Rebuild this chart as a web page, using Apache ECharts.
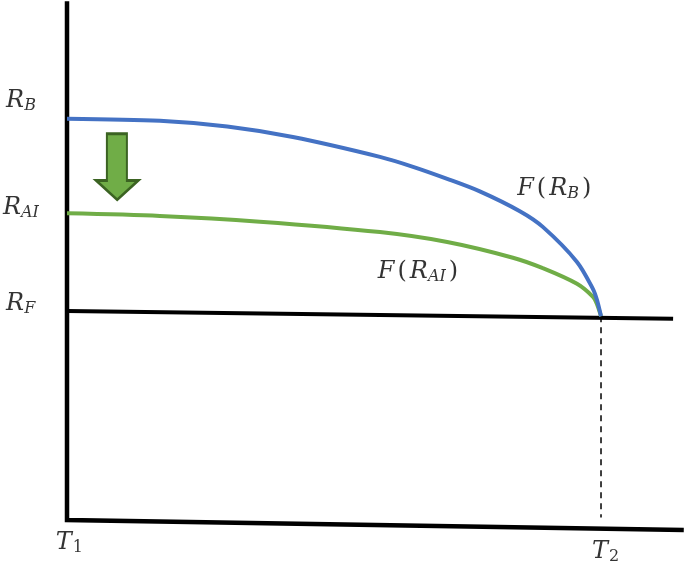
<!DOCTYPE html>
<html>
<head>
<meta charset="utf-8">
<script src="https://cdn.jsdelivr.net/npm/echarts@6/dist/echarts.min.js"></script>
<style>
html,body{margin:0;padding:0;background:#fff;}
#c{width:685px;height:570px;}
</style>
</head>
<body>
<div id="c"></div>
<script>
// Conceptual coordinates: x = time (T1 = 0, T2 = 10), y = level
var blueT = [0, 1.74, 3.0, 4.23, 5.86, 6.48, 7.12, 7.73, 8.48, 8.91, 9.55, 9.85, 9.925, 10];
var blueV = [7.68, 7.64, 7.53, 7.33, 6.95, 6.76, 6.53, 6.29, 5.91, 5.61, 4.94, 4.42, 4.21, 3.90];
var greenT = [0, 1.74, 3.61, 5.86, 7.12, 8.35, 8.91, 9.55, 9.85, 9.925, 10];
var greenV = [5.87, 5.82, 5.71, 5.51, 5.32, 5.02, 4.82, 4.52, 4.27, 4.13, 3.90];
var axisT = [0, 0, 11.55];
var axisV = [9.93, 0, -0.19];
var rfT = [0, 11.35];
var rfV = [4.0, 3.85];
var dashT = [10, 10];
var dashV = [3.9, 0.05];
var arrowPos = [0.94, 6.76];
var labelNames = ['{m|R}{s|B}', '{m|R}{s|AI}', '{m|R}{s|F}', '{m|T}{d|1}', '{m|T}{d|2}', '{m|F}{p|(}{m|R}{s|B}{p|)}', '{m|F}{p|(}{m|R}{s|AI}{p|)}'];
var labelT = [-1.14, -1.20, -1.14, -0.21, 9.83, 8.43, 5.82];
var labelV = [8.03, 5.98, 4.14, -0.43, -0.60, 6.34, 4.75];

function pairs(a, b) { return a.map(function (v, i) { return [v, b[i]]; }); }

var chart = echarts.init(document.getElementById('c'), null, {renderer: 'canvas'});
var rich = {
  m: {fontFamily: 'DejaVu Serif', fontStyle: 'italic', fontSize: 24, lineHeight: 28, color: '#000'},
  p: {fontFamily: 'DejaVu Serif', fontSize: 24, lineHeight: 28, color: '#000', padding: [0, 3, 0, 3]},
  s: {fontFamily: 'DejaVu Serif', fontStyle: 'italic', fontSize: 16, lineHeight: 18, padding: [10, 0, 0, 0], color: '#000'},
  d: {fontFamily: 'DejaVu Serif', fontSize: 16, lineHeight: 18, padding: [10, 0, 0, 1], color: '#000'}
};
chart.setOption({
  animation: false,
  backgroundColor: '#fff',
  grid: {left: 0.25, top: 2.725, width: 684.6, height: 564.3},
  xAxis: {type: 'value', min: -1.25, max: 11.57, show: false},
  yAxis: {type: 'value', min: -0.9, max: 9.9, show: false},
  series: [
    {type: 'line', data: pairs(axisT, axisV), symbol: 'none', clip: false,
     lineStyle: {color: '#000', width: 4.5, join: 'miter', cap: 'butt'}},
    {type: 'line', data: pairs(rfT, rfV), symbol: 'none', clip: false,
     lineStyle: {color: '#000', width: 4}},
    {type: 'line', data: pairs(dashT, dashV), symbol: 'none', clip: false,
     lineStyle: {color: '#000', width: 1.5, type: [6, 5]}},
    {type: 'line', data: pairs(greenT, greenV), symbol: 'none', smooth: 0.3, clip: false,
     lineStyle: {color: '#70AD47', width: 4}},
    {type: 'line', data: pairs(blueT, blueV), symbol: 'none', smooth: 0.3, clip: false,
     lineStyle: {color: '#4472C4', width: 4}},
    {type: 'scatter', data: [arrowPos], clip: false,
     symbol: 'path://M10.7,0 L30.7,0 L30.7,46.7 L42,46.7 L21,66 L0,46.7 L10.7,46.7 Z',
     symbolSize: [42, 66], symbolKeepAspect: false,
     itemStyle: {color: '#70AD47', borderColor: '#3B6322', borderWidth: 2.5, opacity: 1}},
    {type: 'scatter', clip: false, symbolSize: 0,
     data: labelT.map(function (t, i) { return {value: [t, labelV[i]], name: labelNames[i]}; }),
     label: {show: true, position: 'right', distance: 0, formatter: function (p) { return p.name; }, rich: rich}}
  ]
});
</script>
</body>
</html>
